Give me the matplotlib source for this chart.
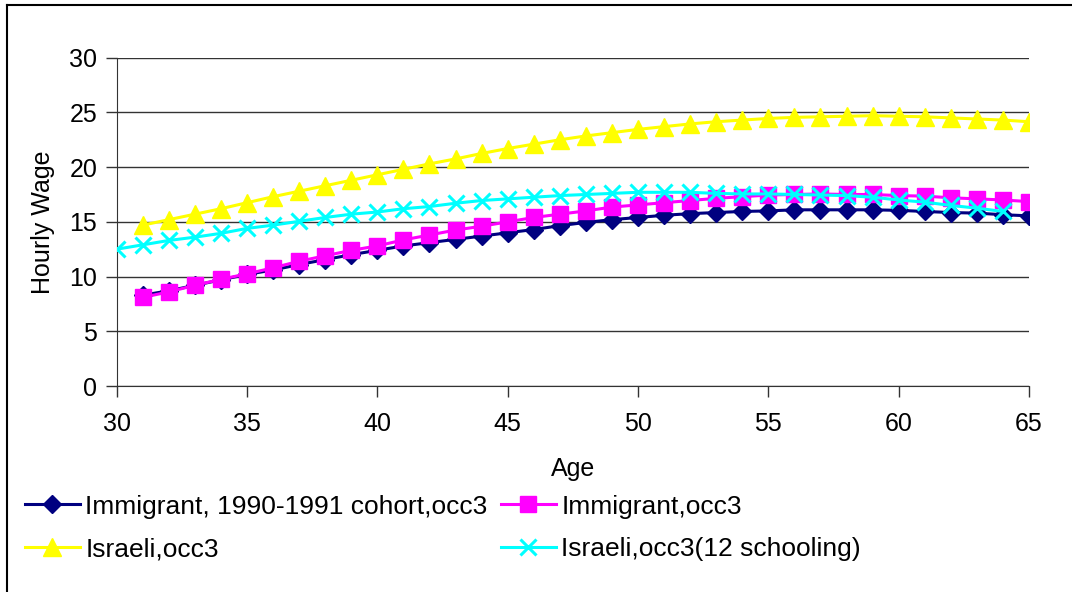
import matplotlib
matplotlib.use("Agg")
import matplotlib.pyplot as plt
from matplotlib.lines import Line2D
import numpy as np

plt.rcParams["font.family"] = ["Liberation Sans", "DejaVu Sans"]

# ages 31..65 for the first three series, 30..64 for the last one
ages_a = np.arange(31, 66)
ages_b = np.arange(30, 65)

immigrant_cohort = [8.3, 8.7, 9.2, 9.7, 10.2, 10.6, 11.1, 11.55, 12.0, 12.4,
                    12.8, 13.1, 13.4, 13.7, 14.0, 14.3, 14.65, 14.95, 15.2, 15.4,
                    15.6, 15.75, 15.85, 15.95, 16.0, 16.1, 16.1, 16.1, 16.1, 16.05,
                    15.95, 15.85, 15.8, 15.65, 15.55]
immigrant = [8.1, 8.6, 9.2, 9.75, 10.25, 10.8, 11.4, 11.9, 12.4, 12.8,
             13.35, 13.8, 14.25, 14.6, 15.0, 15.4, 15.7, 16.0, 16.35, 16.55,
             16.75, 16.95, 17.15, 17.3, 17.45, 17.5, 17.55, 17.5, 17.5, 17.4,
             17.35, 17.2, 17.1, 17.0, 16.85]
israeli = [14.7, 15.2, 15.7, 16.2, 16.75, 17.3, 17.8, 18.3, 18.8, 19.3,
           19.8, 20.3, 20.75, 21.25, 21.7, 22.1, 22.5, 22.85, 23.15, 23.45,
           23.7, 23.95, 24.15, 24.3, 24.45, 24.55, 24.6, 24.65, 24.7, 24.65,
           24.6, 24.5, 24.4, 24.3, 24.15]
israeli_12 = [12.5, 12.9, 13.3, 13.6, 13.95, 14.4, 14.7, 15.05, 15.4, 15.7,
              15.9, 16.2, 16.4, 16.7, 16.95, 17.1, 17.25, 17.4, 17.5, 17.6,
              17.7, 17.7, 17.7, 17.6, 17.55, 17.55, 17.5, 17.45, 17.4, 17.25,
              17.0, 16.8, 16.5, 16.25, 15.95]

labels = ["Immigrant, 1990-1991 cohort,occ3", "Immigrant,occ3",
          "Israeli,occ3", "Israeli,occ3(12 schooling)"]

fig = plt.figure(figsize=(10.72, 5.92), dpi=100)
ax = fig.add_axes([116.7 / 1072, 1 - 386 / 592, (1029 - 116.7) / 1072, (386 - 57.7) / 592])

ax.plot(ages_a, immigrant_cohort, color="#000080", lw=2.2, marker="D", ms=9, zorder=3)
ax.plot(ages_a, immigrant, color="#FF00FF", lw=2.2, marker="s", ms=11, zorder=4)
ax.plot(ages_a, israeli, color="#FFFF00", lw=2.2, marker="^", ms=13, zorder=3)
ax.plot(ages_b, israeli_12, color="#00FFFF", lw=2.2, marker="x", ms=12, mew=2.2, zorder=5)

ax.set_xlim(30, 65)
ax.set_ylim(0, 30)
ax.set_xticks(range(30, 66, 5))
ax.set_yticks(range(0, 31, 5))
ax.grid(axis="y", color="#333333", lw=1)
ax.set_axisbelow(True)
for s in ["top", "right"]:
    ax.spines[s].set_visible(False)
for s in ["left", "bottom"]:
    ax.spines[s].set_color("#333333")
ax.tick_params(labelsize=18, length=8, color="#333333", width=1, pad=6)
ax.tick_params(axis="x", pad=11)
ax.set_xlabel("Age", fontsize=18, labelpad=15)
ax.set_ylabel("Hourly Wage", fontsize=18, labelpad=10)

# legend: two columns, below the plot (matplotlib fills column-wise, so reorder)
handles = [
    Line2D([], [], color="#000080", lw=2.2, marker="D", ms=9),
    Line2D([], [], color="#FF00FF", lw=2.2, marker="s", ms=11),
    Line2D([], [], color="#FFFF00", lw=2.2, marker="^", ms=13),
    Line2D([], [], color="#00FFFF", lw=2.2, marker="x", ms=12, mew=2.2),
]
order = [0, 2, 1, 3]
fig.legend([handles[i] for i in order], [labels[i] for i in order],
           loc="upper left", bbox_to_anchor=(14 / 1072, 1 - 484 / 592),
           ncol=2, frameon=False, fontsize=19, handlelength=2.1, handletextpad=0.2,
           columnspacing=0.5, labelspacing=0.7, borderaxespad=0)

# partial frame (left and top edges of the chart area)
fig.add_artist(Line2D([7 / 1072, 7 / 1072], [0, 1 - 5 / 592], transform=fig.transFigure,
                      color="black", lw=1.5))
fig.add_artist(Line2D([7 / 1072, 1], [1 - 5 / 592, 1 - 5 / 592], transform=fig.transFigure,
                      color="black", lw=1.5))

fig.savefig("out.png", dpi=100)
